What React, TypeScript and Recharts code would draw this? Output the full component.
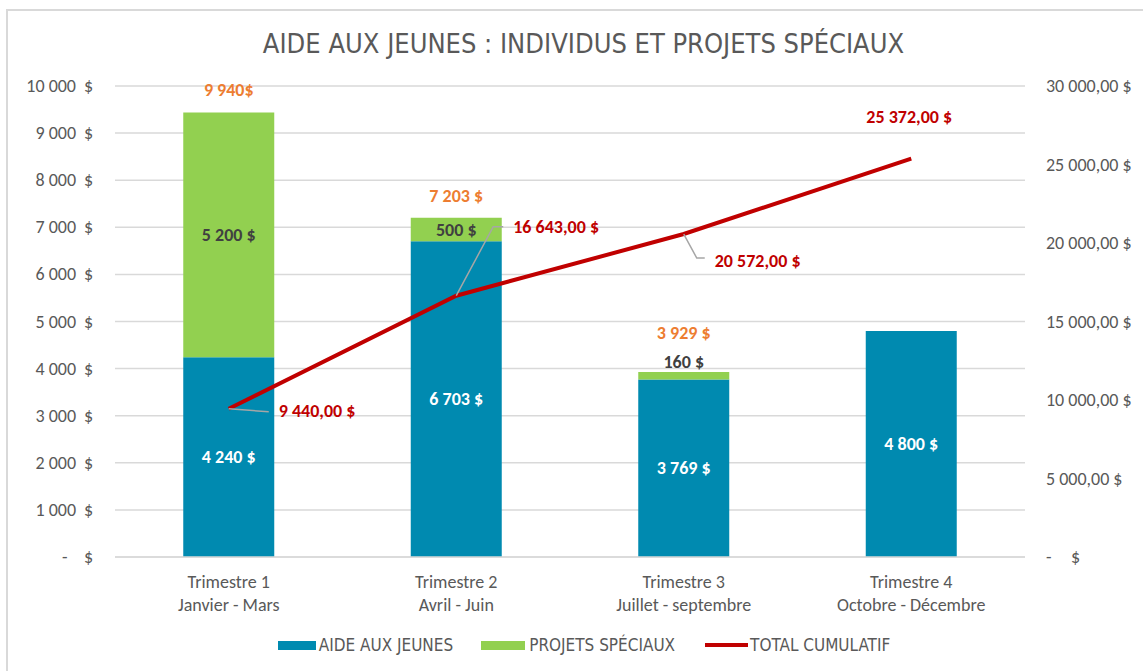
import React from "react";
import {
  ComposedChart,
  Bar,
  Line,
  XAxis,
  YAxis,
  CartesianGrid,
  LabelList,
} from "recharts";

const quarterNames = ["Trimestre 1", "Trimestre 2", "Trimestre 3", "Trimestre 4"];
const quarterMonths = ["Janvier - Mars", "Avril - Juin", "Juillet - septembre", "Octobre - Décembre"];
const aideAuxJeunes = [4240, 6703, 3769, 4800];
const projetsSpeciaux = [5200, 500, 160, 0];
const totalLabels = ["9 940$", "7 203 $", "3 929 $", "4 800 $"];
const totalCumulatif = [9440, 16643, 20572, 25372];
const leftTicks = [0, 1000, 2000, 3000, 4000, 5000, 6000, 7000, 8000, 9000, 10000];
const rightTicks = [0, 5000, 10000, 15000, 20000, 25000, 30000];

// label layout for the cumulative line (manual placement, as in the original)
const lineLabelLayout = [
  { dx: 50, dy: 2, anchor: "start", leader: [[0, 0], [40, 3]] },
  { dx: 57, dy: -69, anchor: "start", leader: [[0, 0], [37, -69], [47, -69]] },
  { dx: 31, dy: 27, anchor: "start", leader: [[0, 0], [13, 24], [21, 24]] },
  { dx: -2, dy: -42, anchor: "middle", leader: null },
];

const data = quarterNames.map((q, i) => ({
  name: q,
  months: quarterMonths[i],
  aide: aideAuxJeunes[i],
  projets: projetsSpeciaux[i],
  total: totalCumulatif[i],
}));

const BLUE = "#008AB0";
const GREEN = "#92D050";
const RED = "#C00000";
const ORANGE = "#ED7D31";
const GREY = "#595959";
const FONT = "Carlito, Calibri, Lato, 'Open Sans', sans-serif";
const NARROW = "'Liberation Sans Narrow', 'DejaVu Sans Condensed', 'Arial Narrow', sans-serif";

const fmtThousands = (v: number) =>
  Math.round(v)
    .toString()
    .replace(/\B(?=(\d{3})+(?!\d))/g, " ");

const TICK_FS = 18;

const LeftTick = (props: any) => {
  const { x, y, payload } = props;
  const v = payload.value as number;
  if (v === 0) {
    return (
      <g fontSize={TICK_FS} fill={GREY} fontFamily={FONT}>
        <text x={x - 33} y={y} dy={6} textAnchor="start">-</text>
        <text x={x - 2} y={y} dy={6} textAnchor="end">$</text>
      </g>
    );
  }
  return (
    <g fontSize={TICK_FS} fill={GREY} fontFamily={FONT}>
      <text x={x - 19} y={y} dy={6} textAnchor="end">{fmtThousands(v)}</text>
      <text x={x - 2} y={y} dy={6} textAnchor="end">$</text>
    </g>
  );
};

const RightTick = (props: any) => {
  const { x, y, payload } = props;
  const v = payload.value as number;
  if (v === 0) {
    return (
      <g fontSize={TICK_FS} fill={GREY} fontFamily={FONT}>
        <text x={x + 1} y={y} dy={6} textAnchor="start">-</text>
        <text x={x + 26} y={y} dy={6} textAnchor="start">$</text>
      </g>
    );
  }
  return (
    <text x={x + 1} y={y} dy={6} textAnchor="start" fontSize={TICK_FS} fill={GREY} fontFamily={FONT}>
      {fmtThousands(v) + ",00 $"}
    </text>
  );
};

const CategoryTick = (props: any) => {
  const { x, y, payload } = props;
  const i = quarterNames.indexOf(payload.value);
  return (
    <g fontSize={18} fill={GREY} fontFamily={FONT}>
      <text x={x} y={y} dy={23} textAnchor="middle">
        {payload.value}
      </text>
      <text x={x} y={y} dy={46} textAnchor="middle">
        {quarterMonths[i]}
      </text>
    </g>
  );
};

const LBL_FS = 18;

const AideLabel = (props: any) => {
  const { x, y, width, height, value } = props;
  return (
    <text
      x={x + width / 2}
      y={y + height / 2}
      dy={6}
      textAnchor="middle"
      fontSize={LBL_FS}
      fontWeight="bold"
      fill="#FFFFFF"
      fontFamily={FONT}
    >
      {fmtThousands(value) + " $"}
    </text>
  );
};

const ProjetsLabel = (props: any) => {
  const { x, y, width, height, value, index } = props;
  const cx = x + width / 2;
  const small = height < 20;
  const elems: any[] = [];
  if (value > 0) {
    elems.push(
      <text
        key="v"
        x={cx}
        y={small ? y - 10 : y + height / 2}
        dy={6}
        textAnchor="middle"
        fontSize={LBL_FS}
        fontWeight="bold"
        fill="#404040"
        fontFamily={FONT}
      >
        {fmtThousands(value) + " $"}
      </text>
    );
  }
  const totalY = small && value > 0 ? y - 39 : y - 22;
  elems.push(
    <text
      key="t"
      x={cx}
      y={totalY}
      dy={6}
      textAnchor="middle"
      fontSize={LBL_FS}
      fontWeight="bold"
      fill={ORANGE}
      fontFamily={FONT}
    >
      {totalLabels[index]}
    </text>
  );
  return <g>{elems}</g>;
};

const LineLabel = (props: any) => {
  const { x, y, value, index } = props;
  const lay = lineLabelLayout[index];
  const txt = fmtThousands(value) + ",00 $";
  return (
    <g>
      {lay.leader && (
        <polyline
          points={lay.leader.map((p: number[]) => `${x + p[0]},${y + p[1]}`).join(" ")}
          fill="none"
          stroke="#A6A6A6"
          strokeWidth={1.5}
        />
      )}
      <text
        x={x + lay.dx}
        y={y + lay.dy}
        dy={6}
        textAnchor={lay.anchor}
        fontSize={LBL_FS}
        fontWeight="bold"
        fill={RED}
        fontFamily={FONT}
      >
        {txt}
      </text>
    </g>
  );
};

const LegendBox = () => (
  <div
    style={{
      position: "absolute",
      left: 0,
      top: 634,
      width: 1168,
      height: 22,
      display: "flex",
      justifyContent: "center",
      alignItems: "center",
      fontFamily: NARROW,
      fontSize: 17,
      color: GREY,
    }}
  >
    <div style={{ display: "flex", alignItems: "center", marginRight: 28 }}>
      <span style={{ display: "inline-block", width: 38, height: 9, background: BLUE, marginRight: 3 }} />
      <span>AIDE AUX JEUNES</span>
    </div>
    <div style={{ display: "flex", alignItems: "center", marginRight: 30 }}>
      <span style={{ display: "inline-block", width: 44, height: 9, background: GREEN, marginRight: 4 }} />
      <span>PROJETS SPÉCIAUX</span>
    </div>
    <div style={{ display: "flex", alignItems: "center" }}>
      <span style={{ display: "inline-block", width: 43, height: 4, background: RED, marginRight: 2 }} />
      <span>TOTAL CUMULATIF</span>
    </div>
  </div>
);

export default function App() {
  return (
    <div
      style={{
        position: "absolute",
        left: 0,
        top: 0,
        width: 1143,
        height: 671,
        background: "#FFFFFF",
        overflow: "hidden",
      }}
    >
      <div
        style={{
          position: "absolute",
          left: 6,
          top: 9,
          right: 0,
          bottom: 0,
          borderLeft: "2px solid #D9D9D9",
          borderTop: "2px solid #D9D9D9",
        }}
      />
      <div
        style={{
          position: "absolute",
          left: 0,
          top: 28,
          width: 1167,
          textAlign: "center",
          fontFamily: NARROW,
          fontSize: 27,
          color: GREY,
          lineHeight: "32px",
        }}
      >
        AIDE AUX JEUNES : INDIVIDUS ET PROJETS SPÉCIAUX
      </div>
      <div style={{ position: "absolute", left: 0, top: 0 }}>
        <ComposedChart
          width={1143}
          height={671}
          data={data}
          margin={{ top: 86, right: 8, bottom: 54, left: 15 }}
          barCategoryGap="30%"
        >
          <CartesianGrid vertical={false} stroke="#D9D9D9" strokeWidth={1.5} yAxisId="left" />
          <XAxis
            dataKey="name"
            axisLine={{ stroke: "#D9D9D9", strokeWidth: 1.5 }}
            tickLine={false}
            tick={<CategoryTick />}
            interval={0}
            height={60}
          />
          <YAxis
            yAxisId="left"
            orientation="left"
            domain={[0, 10000]}
            ticks={leftTicks}
            interval={0}
            axisLine={false}
            tickLine={false}
            tick={<LeftTick />}
            tickMargin={14}
            width={100}
          />
          <YAxis
            yAxisId="right"
            orientation="right"
            domain={[0, 30000]}
            ticks={rightTicks}
            interval={0}
            axisLine={false}
            tickLine={false}
            tick={<RightTick />}
            tickMargin={14}
            width={110}
          />
          <Bar dataKey="aide" stackId="a" yAxisId="left" fill={BLUE} isAnimationActive={false}>
            <LabelList dataKey="aide" content={<AideLabel />} />
          </Bar>
          <Bar dataKey="projets" stackId="a" yAxisId="left" fill={GREEN} isAnimationActive={false}>
            <LabelList dataKey="projets" content={<ProjetsLabel />} />
          </Bar>
          <Line
            dataKey="total"
            yAxisId="right"
            type="linear"
            stroke={RED}
            strokeWidth={4}
            dot={false}
            isAnimationActive={false}
          >
            <LabelList dataKey="total" content={<LineLabel />} />
          </Line>
        </ComposedChart>
      </div>
      <LegendBox />
    </div>
  );
}
